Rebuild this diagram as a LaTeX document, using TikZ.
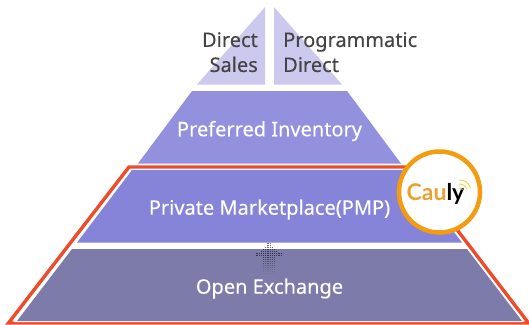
\documentclass[tikz,border=0pt]{standalone}
\usepackage{fontspec}
\setmainfont{Noto Sans}[FakeBold=0.25]
\newfontfamily\caulyfont{Lato}[BoldFont=* Bold]
\definecolor{toptri}{HTML}{CBC9EE}
\definecolor{pref}{HTML}{9391DD}
\definecolor{pmp}{HTML}{8684D9}
\definecolor{openx}{HTML}{7D7BA9}
\definecolor{redl}{HTML}{EE4B2B}
\definecolor{ring}{HTML}{F39C12}
\definecolor{caul}{HTML}{EBA12F}
\definecolor{sig}{HTML}{F2D04B}
\definecolor{darkt}{HTML}{444444}
\tikzset{
  lbl/.style={font=\fontsize{20}{24}\selectfont,text=white,inner sep=0pt,anchor=center},
  toplbl/.style={font=\fontsize{20}{25}\selectfont,text=darkt,inner sep=0pt,align=left}
}
\begin{document}
\begin{tikzpicture}[x=1pt,y=-1pt]
\useasboundingbox (0,0) rectangle (529,324);
\fill[toptri] (265,7) -- (265,84.5) -- (197,84.5) -- cycle;
\fill[toptri] (274,7) -- (274,84.5) -- (342,84.5) -- cycle;
\fill[pref] (192,91) -- (347,91) -- (401,163.5) -- (138,163.5) -- cycle;
\draw[redl,line width=3.4pt,line join=miter] (129,167) -- (409,167) -- (528.5,323) -- (8.5,323) -- cycle;
\fill[white] (131,169) -- (408,169) -- (524,322) -- (14,322) -- cycle;
\fill[pmp] (132,170) -- (407,170) -- (462,242.5) -- (77,242.5) -- cycle;
\fill[openx] (72,249) -- (467,249) -- (522,321) -- (17,321) -- cycle;
% dotted arrow
\foreach \r/\hw/\op in {243/1/.7,245/1/.7,247/3/.7,249/5/.75,251/7/.8,253/11/.85,255/11/.8,257/5/.7,259/5/.62,261/5/.52,263/5/.45,265/5/.36,267/5/.28,269/5/.2,271/5/.13,273/5/.07}{
  \foreach \d in {-\hw,...,\hw}{
    \ifodd\d
      \fill[black!70!openx,opacity=\op] ({269+\d*1.1-.5},\r) rectangle ++(1.1,1.1);
    \fi
  }
}
\node[toplbl,anchor=north east,align=right] (direct) at (258,32) {Direct\\Sales};
\node[toplbl,anchor=north west] (prog) at (283,32) {Programmatic\\Direct};
\node[lbl] (prefl) at (269.5,131) {Preferred Inventory};
\node[lbl] (pmpl) at (269.5,209.5) {Private Marketplace(PMP)};
\node[lbl] (openl) at (269.5,288.5) {Open Exchange};
\node[circle,draw=ring,fill=white,line width=4.5pt,minimum size=81pt,inner sep=0pt] (badge) at (439.5,192) {};
\node[inner sep=0pt,font=\caulyfont\fontsize{23}{24}\selectfont\bfseries] (cauly) at (435.5,194) {\textcolor{caul}{Cau}\textcolor{black}{ly}};
\draw[sig,line width=.9pt] (460,191) +(-30:3) arc (-30:-100:3);
\draw[sig,line width=.9pt] (460,191) +(-20:7) arc (-20:-100:7);
\draw[sig,line width=.9pt] (460,191) +(-15:11) arc (-15:-95:11);
\end{tikzpicture}
\end{document}
